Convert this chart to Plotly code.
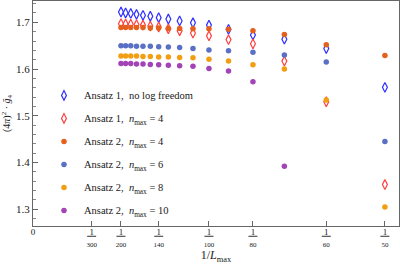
import plotly.graph_objects as go

L_vals = [200, 190, 180, 170, 160, 150, 140, 130, 120, 110, 100, 90, 80, 70, 60, 50]

a1_nolog = [1.722, 1.720, 1.719, 1.717, 1.715, 1.713, 1.710, 1.707, 1.703, 1.699,
            1.694, 1.685, 1.673, 1.664, 1.644, 1.561]
a1_n4 = [1.697, 1.6965, 1.696, 1.695, 1.694, 1.692, 1.690, 1.686, 1.682, 1.677,
         1.671, 1.663, 1.654, 1.617, 1.530, 1.353]
a2_n4 = [1.689, 1.689, 1.689, 1.689, 1.689, 1.688, 1.688, 1.687, 1.687, 1.686,
         1.686, 1.685, 1.682, 1.674, 1.652, 1.629]
a2_n6 = [1.650, 1.650, 1.650, 1.649, 1.649, 1.649, 1.648, 1.647, 1.646, 1.644,
         1.641, 1.639, 1.636, 1.630, 1.615, 1.445]
a2_n8 = [1.628, 1.628, 1.628, 1.628, 1.627, 1.627, 1.626, 1.626, 1.625, 1.624,
         1.621, 1.617, 1.609, 1.600, 1.534, 1.305]
a2_n10 = [1.612, 1.612, 1.612, 1.611, 1.611, 1.610, 1.609, 1.608, 1.607, 1.606,
          1.601, 1.596, 1.573, 1.392, None, None]

tick_L = [300, 200, 140, 100, 80, 60, 50]
y_ticks = [1.3, 1.4, 1.5, 1.6, 1.7]

x = [1.0 / v for v in L_vals]

FONT = "Liberation Serif"
TXT = "#1a1a1a"

series = [
    ("Ansatz 1,  no log freedom", a1_nolog, "diamond-tall-open", "#2f2fff", 7),
    ("Ansatz 1,  <i>n</i><sub>max</sub> = 4", a1_n4, "diamond-tall-open", "#ff4040", 7),
    ("Ansatz 2,  <i>n</i><sub>max</sub> = 4", a2_n4, "circle", "#e4601c", 5.5),
    ("Ansatz 2,  <i>n</i><sub>max</sub> = 6", a2_n6, "circle", "#5a70c4", 5.5),
    ("Ansatz 2,  <i>n</i><sub>max</sub> = 8", a2_n8, "circle", "#f29e12", 5.5),
    ("Ansatz 2,  <i>n</i><sub>max</sub> = 10", a2_n10, "circle", "#a244b6", 5.5),
]

fig = go.Figure()
for i, (name, ys, sym, col, sz) in enumerate(series):
    fig.add_trace(go.Scatter(
        x=x, y=ys, mode="markers", name=name,
        legendgroup=str(i),
        marker=dict(symbol=sym, color=col, size=sz,
                    line=dict(color=col, width=1.2) if "open" in sym else dict(width=0)),
    ))

tickvals = [0] + [1.0 / v for v in tick_L]
ticktext = ["0"] + ["<u>&nbsp;1&nbsp;</u><br><span style='font-size:7px'>%d</span>" % v for v in tick_L]

fig.update_layout(
    width=400, height=266,
    margin=dict(l=33, r=1, t=1, b=40),
    plot_bgcolor="white", paper_bgcolor="white",
    font=dict(family=FONT, size=11, color=TXT),
    showlegend=True,
    legend=dict(x=0.03, y=0.645, xanchor="left", yanchor="top",
                bgcolor="rgba(0,0,0,0)", font=dict(family=FONT, size=10.5, color=TXT),
                tracegroupgap=4, itemwidth=30),
    xaxis=dict(range=[0, 0.0208], tickvals=tickvals, ticktext=ticktext, automargin=False,
               showgrid=False, zeroline=False,
               showline=True, linecolor="#666", linewidth=1, mirror=True,
               ticks="inside", ticklen=5, tickcolor="#666", ticklabelstandoff=-3,
               tickfont=dict(family=FONT, size=9, color=TXT),
               title=dict(text="1/<i>L</i><sub>max</sub>", font=dict(family=FONT, size=12, color=TXT),
                          standoff=2)),
    yaxis=dict(range=[1.2643, 1.7456], tickvals=y_ticks, ticktext=["%.1f" % v for v in y_ticks],
               automargin=False,
               showgrid=False, zeroline=False,
               showline=True, linecolor="#666", linewidth=1, mirror=True,
               ticks="inside", ticklen=5, tickcolor="#666",
               minor=dict(dtick=0.02, ticks="inside", ticklen=3, tickcolor="#888"),
               tickfont=dict(family=FONT, size=11, color=TXT),
               title=dict(text="(4<i>π</i>)<sup>2</sup> · <i>ḡ</i><sub>4</sub>",
                          font=dict(family=FONT, size=10, color=TXT), standoff=4)),
)

fig.write_html("out.html", config={"displayModeBar": False},
               post_script="document.body.style.margin='0';document.body.style.overflow='hidden';")
